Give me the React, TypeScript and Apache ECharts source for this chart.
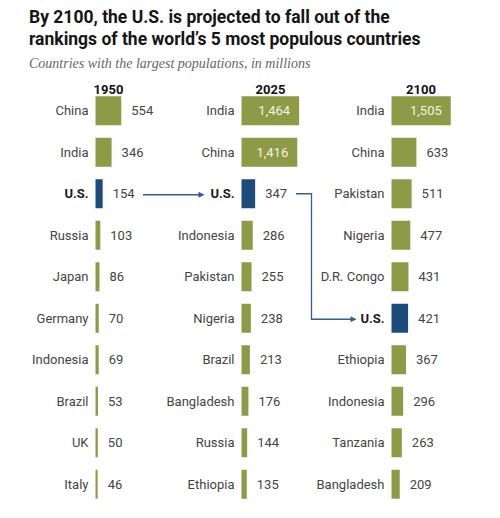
import React, { useEffect, useRef } from "react";
import * as echarts from "echarts";

const years = ["1950", "2025", "2100"];

const countries1950 = ["China", "India", "U.S.", "Russia", "Japan", "Germany", "Indonesia", "Brazil", "UK", "Italy"];
const values1950 = [554, 346, 154, 103, 86, 70, 69, 53, 50, 46];

const countries2025 = ["India", "China", "U.S.", "Indonesia", "Pakistan", "Nigeria", "Brazil", "Bangladesh", "Russia", "Ethiopia"];
const values2025 = [1464, 1416, 347, 286, 255, 238, 213, 176, 144, 135];

const countries2100 = ["India", "China", "Pakistan", "Nigeria", "D.R. Congo", "U.S.", "Ethiopia", "Indonesia", "Tanzania", "Bangladesh"];
const values2100 = [1505, 633, 511, 477, 431, 421, 367, 296, 263, 209];

const GREEN = "#8d9a46";
const BLUE = "#1d4b7c";
const ARROW = "#2f5f92";
const FONT = "Roboto, 'Liberation Sans', sans-serif";

const columns = [
  { names: countries1950, values: values1950, left: 95.5, max: 2150 },
  { names: countries2025, values: values2025, left: 241.5, max: 2540 },
  { names: countries2100, values: values2100, left: 391.5, max: 2540 },
];

export default function App() {
  const ref = useRef<HTMLDivElement>(null);

  useEffect(() => {
    if (!ref.current) return;
    const chart = echarts.init(ref.current, null, { renderer: "svg" });

    const grids = columns.map((c) => ({ left: c.left, top: 90, width: 100, height: 415 }));
    const xAxes = columns.map((c, i) => ({ type: "value", gridIndex: i, min: 0, max: c.max, show: false }));
    const yAxes = columns.map((c, i) => ({
      type: "category",
      gridIndex: i,
      data: c.names,
      inverse: true,
      axisLine: { show: false },
      axisTick: { show: false },
      splitLine: { show: false },
      axisLabel: {
        margin: 7,
        fontSize: 13,
        fontFamily: FONT,
        color: "#444",
        formatter: (v: string) => (v === "U.S." ? "{us|U.S.}" : v),
        rich: { us: { fontSize: 13, fontFamily: FONT, fontWeight: "bold", color: "#1a1a1a" } },
      },
    }));
    const series = columns.map((c, i) => ({
      type: "bar",
      xAxisIndex: i,
      yAxisIndex: i,
      barWidth: 29,
      data: c.values.map((v, j) => {
        const inside = v > 1000;
        return {
          value: v,
          itemStyle: { color: c.names[j] === "U.S." ? BLUE : GREEN },
          label: inside
            ? { position: "insideRight", distance: 9, color: "#f2f2e2" }
            : { position: "right", distance: 10, color: "#444" },
        };
      }),
      label: {
        show: true,
        fontSize: 13,
        fontFamily: FONT,
        formatter: (p: any) => Number(p.value).toLocaleString("en-US"),
      },
    }));

    const headerX = [108.5, 270.5, 421];
    const headers = years.map((y, i) => ({
      type: "text",
      x: headerX[i],
      y: 89.5,
      style: {
        text: y,
        fontSize: 13,
        fontWeight: "bold",
        fontFamily: FONT,
        fill: "#111",
        align: "center",
        verticalAlign: "middle",
      },
    }));

    chart.setOption({
      animation: false,
      backgroundColor: "#ffffff",
      title: [
        {
          text: "By 2100, the U.S. is projected to fall out of the\nrankings of the world\u2019s 5 most populous countries",
          left: 29,
          top: 6,
          padding: 0,
          textStyle: {
            fontSize: 17.5,
            fontWeight: "bold",
            fontFamily: FONT,
            color: "#151515",
            lineHeight: 22,
          },
        },
        {
          text: "Countries with the largest populations, in millions",
          left: 29,
          top: 54,
          padding: 0,
          textStyle: {
            fontSize: 14,
            fontWeight: "normal",
            fontStyle: "italic",
            fontFamily: "'Liberation Serif', serif",
            color: "#666",
            lineHeight: 18,
          },
        },
      ],
      grid: grids,
      xAxis: xAxes,
      yAxis: yAxes,
      series,
      graphic: headers,
    });

    const y1 = chart.convertToPixel({ yAxisIndex: 0 } as any, "U.S.") as unknown as number;
    const y3 = chart.convertToPixel({ yAxisIndex: 2 } as any, "U.S.") as unknown as number;
    const ya = Number(y1) + 1;
    const yb = Number(y3) + 1;

    chart.setOption({
      graphic: [
        ...headers,
        {
          type: "line",
          shape: { x1: 143, y1: ya, x2: 200, y2: ya },
          style: { stroke: ARROW, lineWidth: 1.3 },
        },
        {
          type: "polygon",
          shape: { points: [[204.5, ya], [198.5, ya - 3], [198.5, ya + 3]] },
          style: { fill: ARROW },
        },
        {
          type: "polyline",
          shape: { points: [[296, ya - 1], [311.5, ya - 1], [311.5, yb], [352, yb]] },
          style: { stroke: ARROW, lineWidth: 1.3, fill: null },
        },
        {
          type: "polygon",
          shape: { points: [[356.5, yb], [350.5, yb - 3], [350.5, yb + 3]] },
          style: { fill: ARROW },
        },
      ],
    });

    return () => chart.dispose();
  }, []);

  return (
    <div
      ref={ref}
      style={{ position: "fixed", left: 0, top: 0, width: 500, height: 518, background: "#fff" }}
    />
  );
}
